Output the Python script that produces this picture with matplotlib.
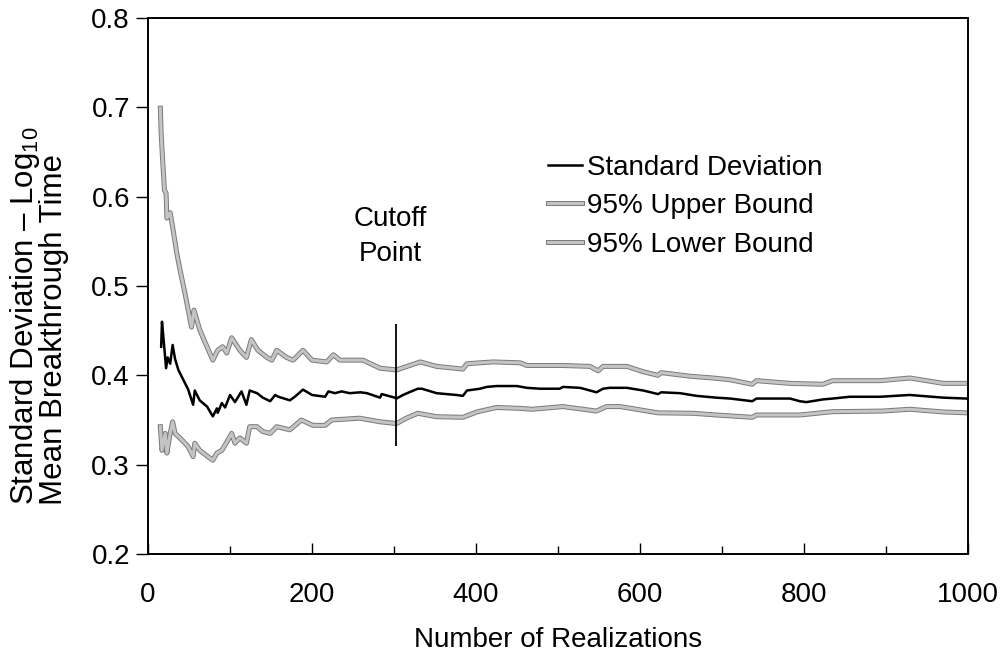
import numpy as np
import matplotlib
matplotlib.use("Agg")
import matplotlib.pyplot as plt
import matplotlib.patheffects as pe

plt.rcParams["font.family"] = ["Liberation Sans", "DejaVu Sans"]
plt.rcParams["mathtext.fontset"] = "custom"
plt.rcParams["mathtext.rm"] = "Liberation Sans"
plt.rcParams["mathtext.it"] = "Liberation Sans"

# standard deviation of log10 mean breakthrough time vs. number of realizations
std_x = [16, 17, 19, 22, 24, 27, 30, 33, 37, 43, 49, 55, 57, 63, 72, 79, 84, 85, 90, 94,
         100, 106, 114, 120, 124, 133, 140, 149, 155, 159, 173, 179, 189, 200, 216, 220,
         228, 236, 246, 259, 267, 283, 285, 301, 303, 311, 316, 329, 334, 352, 376, 384,
         389, 405, 413, 425, 450, 462, 478, 502, 506, 527, 539, 547, 555, 563, 584, 604,
         622, 626, 649, 669, 693, 710, 737, 742, 783, 795, 803, 823, 835, 856, 893, 929,
         970, 998]
std_y = [0.432, 0.460, 0.440, 0.408, 0.420, 0.413, 0.434, 0.418, 0.406, 0.395, 0.384, 0.367,
         0.383, 0.372, 0.365, 0.354, 0.363, 0.358, 0.369, 0.364, 0.378, 0.370, 0.382, 0.367,
         0.383, 0.380, 0.375, 0.371, 0.378, 0.376, 0.372, 0.376, 0.384, 0.378, 0.376, 0.382,
         0.380, 0.382, 0.380, 0.381, 0.380, 0.375, 0.379, 0.375, 0.374, 0.378, 0.380, 0.385,
         0.385, 0.380, 0.378, 0.377, 0.383, 0.385, 0.387, 0.388, 0.388, 0.386, 0.385, 0.385,
         0.387, 0.386, 0.383, 0.381, 0.385, 0.386, 0.386, 0.383, 0.379, 0.381, 0.380, 0.377,
         0.375, 0.374, 0.371, 0.374, 0.374, 0.371, 0.370, 0.373, 0.374, 0.376, 0.376, 0.378,
         0.375, 0.374]

up_x = [15, 16, 18, 20, 22, 23, 27, 30, 35, 39, 45, 53, 56, 63, 70, 79, 85, 91, 96, 102,
        112, 120, 126, 134, 145, 151, 157, 169, 177, 189, 200, 218, 226, 234, 242, 262,
        283, 303, 332, 352, 384, 389, 421, 454, 462, 506, 539, 549, 555, 584, 604, 622,
        626, 661, 689, 710, 737, 742, 783, 823, 835, 893, 929, 970, 998]
up_y = [0.699, 0.670, 0.638, 0.607, 0.604, 0.576, 0.582, 0.566, 0.537, 0.518, 0.492, 0.454,
        0.473, 0.451, 0.436, 0.417, 0.428, 0.432, 0.425, 0.442, 0.428, 0.420, 0.440, 0.428,
        0.420, 0.417, 0.428, 0.420, 0.417, 0.428, 0.417, 0.415, 0.423, 0.417, 0.417, 0.417,
        0.408, 0.406, 0.415, 0.410, 0.407, 0.413, 0.415, 0.414, 0.411, 0.411, 0.410, 0.405,
        0.410, 0.410, 0.404, 0.400, 0.403, 0.399, 0.397, 0.395, 0.390, 0.394, 0.391, 0.390,
        0.394, 0.394, 0.397, 0.391, 0.391]

lo_x = [15, 17, 21, 23, 27, 30, 33, 43, 49, 55, 57, 63, 73, 79, 84, 90, 94, 102, 106, 112,
        120, 124, 133, 140, 149, 157, 173, 187, 201, 216, 224, 258, 283, 303, 315, 329,
        352, 384, 401, 425, 454, 468, 506, 547, 559, 576, 622, 665, 693, 737, 742, 795,
        835, 896, 929, 970, 998]
lo_y = [0.3425, 0.316, 0.335, 0.313, 0.335, 0.348, 0.335, 0.326, 0.320, 0.309, 0.324, 0.316,
        0.309, 0.305, 0.313, 0.316, 0.322, 0.335, 0.324, 0.330, 0.324, 0.3425, 0.3425, 0.337,
        0.335, 0.3425, 0.339, 0.350, 0.344, 0.344, 0.350, 0.352, 0.348, 0.346, 0.352, 0.3575,
        0.3537, 0.353, 0.359, 0.364, 0.363, 0.362, 0.365, 0.360, 0.365, 0.365, 0.358, 0.3575,
        0.3556, 0.353, 0.3556, 0.3556, 0.3593, 0.360, 0.362, 0.359, 0.358]

cutoff_x = 303
cutoff_span = (0.321, 0.458)

fig = plt.figure(figsize=(10.03, 6.56), dpi=100)
ax = fig.add_axes([0.1476, 0.1555, 0.8174, 0.8171])

gray_fx = [pe.Stroke(linewidth=3.6, foreground="#7a7a7a"), pe.Normal()]
ax.plot(std_x, std_y, color="black", lw=1.8, label="Standard Deviation", zorder=3)
ax.plot(up_x, up_y, color="#c4c4c4", lw=2.2, path_effects=gray_fx, label="95% Upper Bound")
ax.plot(lo_x, lo_y, color="#c4c4c4", lw=2.2, path_effects=gray_fx, label="95% Lower Bound")

ax.vlines(cutoff_x, cutoff_span[0], cutoff_span[1], color="black", lw=1.3)
ax.text(296, 0.555, "Cutoff\nPoint", ha="center", va="center", fontsize=20, linespacing=1.45)

ax.set_xlim(0, 1000)
ax.set_ylim(0.2, 0.8)
ax.set_xticks(np.arange(0, 1001, 200))
ax.set_xticks(np.arange(100, 1000, 200), minor=True)
ax.set_yticks(np.arange(0.2, 0.81, 0.1))
ax.yaxis.set_major_formatter(matplotlib.ticker.FormatStrFormatter("%.1f"))
ax.tick_params(axis="x", which="major", direction="in", length=8, width=1, pad=20, labelsize=20)
ax.tick_params(axis="x", which="minor", direction="in", length=6, width=1)
ax.tick_params(axis="y", direction="out", length=9, width=1, pad=4, labelsize=20)
for s in ax.spines.values():
    s.set_linewidth(1.4)

ax.set_xlabel("Number of Realizations", fontsize=20, labelpad=14)
ax.set_ylabel("Standard Deviation \u2013 Log$_{10}$\nMean Breakthrough Time", fontsize=22.5,
              linespacing=0.9, multialignment="left")
ax.yaxis.set_label_coords(-0.096, 0.444)

leg = ax.legend(loc="upper left", bbox_to_anchor=(0.474, 0.766), frameon=False, fontsize=20,
                handlelength=1.25, handletextpad=0.15, labelspacing=0.45, borderaxespad=0)

fig.savefig("out.png", dpi=100)
plt.close(fig)
